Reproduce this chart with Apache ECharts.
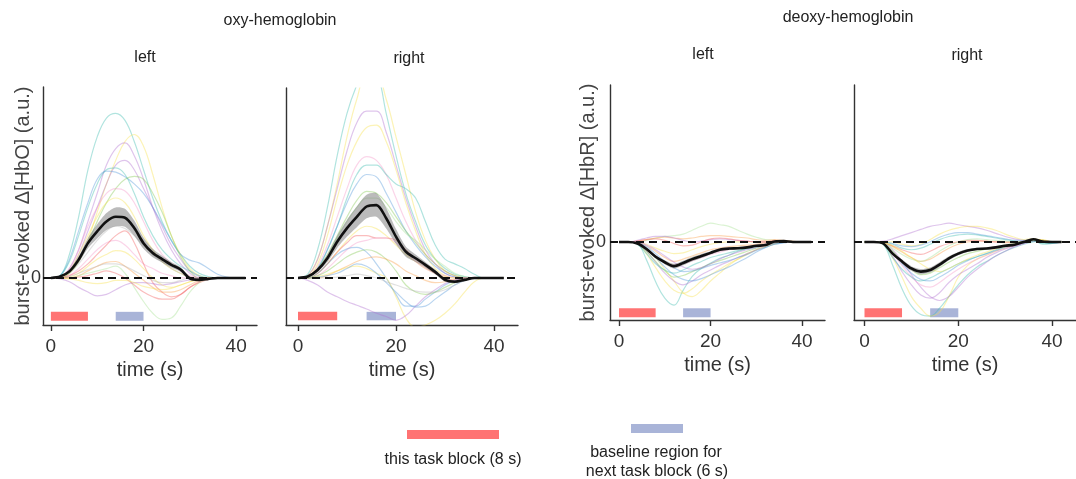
<!DOCTYPE html>
<html>
<head>
<meta charset="utf-8">
<script src="https://cdn.jsdelivr.net/npm/echarts@6/dist/echarts.min.js"></script>
<style>
  html, body { margin: 0; padding: 0; background: #fff; }
  #chart { width: 1076px; height: 479px; }
</style>
</head>
<body>
<div id="chart"></div>
<script>
// Time axis of the burst-evoked responses (s)
const timeS = [0, 2, 4, 6, 8, 10, 12, 14, 16, 18, 20, 22, 24, 26, 28, 30, 32, 34, 36, 38, 40, 42];

// Task block and following baseline window (s)
const taskBlock = [0, 8];
const baselineBlock = [14, 20];

// ---- oxy-hemoglobin, left hemisphere ----
const oxyLeftMean = [0, 0.03, 0.14, 0.39, 0.74, 0.99, 1.2, 1.3, 1.28, 1.06, 0.74, 0.53, 0.4, 0.28, 0.18, -0.01, -0.04, -0.02, 0, 0, 0, 0];
const oxyLeftSem = [0, 0.01, 0.03, 0.07, 0.11, 0.15, 0.18, 0.2, 0.19, 0.16, 0.12, 0.09, 0.07, 0.06, 0.05, 0.04, 0.03, 0.02, 0.01, 0.01, 0, 0];
const oxyLeftTraces = [
  [0, 0.05, 0.5, 1.3, 2.3, 3.0, 3.4, 3.5, 3.35, 2.9, 2.3, 1.7, 1.2, 0.8, 0.5, 0.25, 0.1, 0.03, 0, 0, 0, 0],
  [0, 0, 0.1, 0.35, 0.8, 1.4, 2.0, 2.5, 2.9, 3.05, 2.8, 2.2, 1.5, 0.9, 0.5, 0.2, 0.05, 0, 0, 0, 0, 0],
  [0, 0.02, 0.2, 0.6, 1.2, 1.8, 2.4, 2.75, 2.87, 2.6, 2.1, 1.5, 1.0, 0.6, 0.3, 0.1, 0, 0, 0, 0, 0, 0],
  [0, 0.02, 0.15, 0.5, 1.0, 1.5, 2.0, 2.4, 2.5, 2.3, 1.9, 1.5, 1.1, 0.7, 0.4, 0.15, 0.03, 0, 0, 0, 0, 0],
  [0, 0.05, 0.4, 1.0, 1.6, 2.1, 2.27, 2.25, 2.15, 2.0, 1.8, 1.5, 1.15, 0.8, 0.5, 0.38, 0.32, 0.2, 0.08, 0.02, 0, 0],
  [0, 0.05, 0.35, 0.9, 1.5, 2.0, 2.3, 2.34, 2.2, 1.8, 1.3, 0.9, 0.6, 0.4, 0.25, 0.15, 0.05, 0, 0, 0, 0, 0],
  [0, 0, 0.1, 0.35, 0.75, 1.2, 1.6, 1.9, 2.1, 2.16, 2.1, 1.8, 1.4, 0.9, 0.45, 0.15, 0, 0, 0, 0, 0, 0],
  [0, 0.02, 0.2, 0.6, 1.1, 1.5, 1.8, 1.9, 1.85, 1.6, 1.2, 0.8, 0.5, 0.3, 0.15, 0.05, 0, 0, 0, 0, 0, 0],
  [0, 0, 0.15, 0.5, 0.9, 1.3, 1.6, 1.7, 1.6, 1.3, 0.9, 0.6, 0.35, 0.2, 0.1, 0.02, 0, 0, 0, 0, 0, 0],
  [0, 0, 0.1, 0.3, 0.55, 0.8, 1.0, 1.1, 1.05, 0.9, 0.7, 0.5, 0.35, 0.2, 0.1, 0.02, 0, 0, 0, 0, 0, 0],
  [0, 0, 0.05, 0.2, 0.4, 0.6, 0.75, 0.8, 0.7, 0.5, 0.3, 0.2, 0.1, 0.05, 0, 0, 0, 0, 0, 0, 0, 0],
  [0, 0, 0.05, 0.15, 0.3, 0.5, 0.7, 0.9, 1.0, 0.75, 0.3, -0.1, -0.3, -0.4, -0.35, -0.2, -0.1, -0.03, 0, 0, 0, 0],
  [0, 0, 0.02, 0.1, 0.25, 0.4, 0.5, 0.58, 0.55, 0.4, 0.2, 0, -0.15, -0.2, -0.15, -0.08, -0.02, 0, 0, 0, 0, 0],
  [0, 0, 0, 0.05, 0.15, 0.25, 0.33, 0.35, 0.25, 0.1, -0.05, -0.2, -0.3, -0.3, -0.25, -0.15, -0.05, 0, 0, 0, 0, 0],
  [0, 0, 0, 0.05, 0.1, 0.15, 0.2, 0.25, 0.1, -0.2, -0.5, -0.75, -0.88, -0.85, -0.6, -0.3, -0.1, -0.02, 0, 0, 0, 0],
  [0, -0.02, -0.08, -0.2, -0.3, -0.38, -0.35, -0.25, -0.15, -0.1, -0.1, -0.12, -0.15, -0.12, -0.08, -0.04, 0, 0, 0, 0, 0, 0],
  [0, 0, 0, 0.02, 0.05, 0.1, 0.15, 0.1, 0, -0.15, -0.3, -0.4, -0.45, -0.45, -0.35, -0.2, -0.08, 0, 0, 0, 0, 0],
  [0, 0, -0.02, -0.05, -0.1, -0.12, -0.1, -0.05, -0.05, -0.1, -0.18, -0.22, -0.25, -0.22, -0.15, -0.08, -0.03, 0, 0, 0, 0, 0],
  [0, 0, 0.03, 0.1, 0.18, 0.25, 0.3, 0.3, 0.25, 0.15, 0.05, -0.05, -0.1, -0.1, -0.05, 0, 0, 0, 0, 0, 0, 0]
];
const oxyLeftHues = ['teal', 'yellow', 'purple', 'purple', 'blue', 'teal', 'green', 'pink', 'yellow', 'gray',
  'pink', 'red', 'yellow', 'orange', 'lightgreen', 'purple', 'red', 'yellow', 'gray'];

// ---- oxy-hemoglobin, right hemisphere ----
const oxyRightMean = [0, 0.03, 0.17, 0.42, 0.77, 1.06, 1.3, 1.52, 1.55, 1.27, 0.88, 0.56, 0.42, 0.28, 0.13, -0.04, -0.08, -0.04, 0, 0, 0, 0];
const oxyRightSem = [0, 0.01, 0.04, 0.08, 0.13, 0.18, 0.22, 0.25, 0.25, 0.22, 0.16, 0.11, 0.08, 0.06, 0.05, 0.04, 0.03, 0.02, 0.01, 0.01, 0, 0];
const oxyRightTraces = [
  [0, 0.08, 0.6, 1.5, 2.6, 3.5, 4.1, 4.5, 4.4, 3.5, 2.6, 1.8, 1.2, 0.7, 0.4, 0.2, 0.08, 0.03, 0, 0, 0, 0],
  [0, 0.05, 0.4, 1.1, 2.0, 3.0, 3.8, 4.3, 4.3, 3.8, 3.0, 2.2, 1.4, 0.8, 0.4, 0.15, 0.05, 0, 0, 0, 0, 0],
  [0, 0.05, 0.4, 1.1, 1.9, 2.7, 3.3, 3.55, 3.55, 3.1, 2.4, 1.7, 1.1, 0.6, 0.3, 0.1, 0.02, 0, 0, 0, 0, 0],
  [0, 0.03, 0.3, 0.9, 1.7, 2.4, 2.9, 3.2, 3.25, 2.9, 2.3, 1.6, 1.0, 0.5, 0.2, 0.05, 0, 0, 0, 0, 0, 0],
  [0, 0.03, 0.25, 0.7, 1.3, 1.9, 2.4, 2.58, 2.5, 2.2, 1.7, 1.2, 0.8, 0.5, 0.3, 0.15, 0.05, 0, 0, 0, 0, 0],
  [0, 0.03, 0.2, 0.6, 1.1, 1.7, 2.2, 2.4, 2.4, 2.2, 2.0, 1.9, 1.7, 1.2, 0.7, 0.4, 0.3, 0.2, 0.08, 0, 0, 0],
  [0, 0.02, 0.2, 0.6, 1.1, 1.6, 2.0, 2.2, 2.15, 1.8, 1.4, 1.0, 0.7, 0.45, 0.25, 0.1, 0.02, 0, 0, 0, 0, 0],
  [0, 0.02, 0.2, 0.5, 0.9, 1.3, 1.65, 1.84, 1.8, 1.6, 1.3, 1.0, 0.75, 0.5, 0.3, 0.15, 0.05, 0, 0, 0, 0, 0],
  [0, 0.02, 0.15, 0.45, 0.85, 1.2, 1.5, 1.7, 1.7, 1.5, 1.2, 0.95, 0.8, 0.6, 0.4, 0.25, 0.1, 0.03, 0, 0, 0, 0],
  [0, 0, 0.1, 0.3, 0.55, 0.8, 1.0, 1.1, 1.05, 0.9, 0.7, 0.5, 0.35, 0.2, 0.1, 0.03, 0, 0, 0, 0, 0, 0],
  [0, 0, 0.1, 0.3, 0.55, 0.75, 0.9, 0.9, 0.85, 0.85, 0.8, 0.6, 0.4, 0.25, 0.1, 0, -0.05, -0.02, 0, 0, 0, 0],
  [0, 0, 0.05, 0.2, 0.4, 0.6, 0.75, 0.8, 0.85, 0.85, 0.75, 0.55, 0.35, 0.2, 0.1, 0.05, 0, 0, 0, 0, 0, 0],
  [0, 0, 0.1, 0.3, 0.5, 0.62, 0.65, 0.55, 0.3, 0, -0.35, -0.6, -0.6, -0.45, -0.3, -0.15, -0.05, 0, 0, 0, 0, 0],
  [0, 0, 0.05, 0.15, 0.3, 0.45, 0.55, 0.6, 0.55, 0.4, 0.15, -0.15, -0.3, -0.35, -0.3, -0.2, -0.1, -0.03, 0, 0, 0, 0],
  [0, 0, 0, 0.05, 0.15, 0.25, 0.35, 0.42, 0.45, 0.4, 0.3, 0.15, 0.05, -0.05, -0.1, -0.08, -0.03, 0, 0, 0, 0, 0],
  [0, 0, 0.03, 0.08, 0.15, 0.22, 0.25, 0.2, 0.1, 0, -0.4, -0.85, -1.05, -1.0, -0.9, -0.75, -0.55, -0.3, -0.08, 0, 0, 0],
  [0, -0.05, -0.15, -0.3, -0.4, -0.5, -0.58, -0.66, -0.75, -0.82, -0.9, -0.8, -0.6, -0.4, -0.25, -0.12, -0.05, 0, 0, 0, 0, 0],
  [0, 0, 0.02, 0.05, 0.1, 0.2, 0.3, 0.25, 0.1, -0.1, -0.3, -0.5, -0.62, -0.6, -0.45, -0.3, -0.15, -0.05, 0, 0, 0, 0],
  [0, 0, 0, 0, 0.02, 0.05, 0.08, 0.05, 0, -0.08, -0.15, -0.22, -0.28, -0.3, -0.3, -0.25, -0.15, -0.05, 0, 0, 0, 0]
];
const oxyRightHues = ['teal', 'yellow', 'purple', 'yellow', 'pink', 'teal', 'blue', 'green', 'lightgreen', 'yellow',
  'red', 'pink', 'blue', 'green', 'orange', 'yellow', 'purple', 'blue', 'gray'];

// ---- deoxy-hemoglobin, left hemisphere ----
const deoxyLeftMean = [0, 0, -0.02, -0.09, -0.19, -0.26, -0.31, -0.27, -0.22, -0.18, -0.14, -0.1, -0.085, -0.08, -0.07, -0.05, -0.04, 0.005, 0.01, 0, 0, 0];
const deoxyLeftSem = [0, 0, 0.005, 0.015, 0.02, 0.025, 0.03, 0.03, 0.028, 0.025, 0.02, 0.018, 0.015, 0.013, 0.012, 0.01, 0.01, 0.008, 0.006, 0.005, 0.004, 0.003];
const deoxyLeftTraces = [
  [0, 0, -0.02, -0.23, -0.51, -0.72, -0.81, -0.62, -0.44, -0.34, -0.27, -0.21, -0.17, -0.12, -0.09, -0.07, -0.04, -0.02, 0, 0, 0, 0],
  [0, 0, -0.02, -0.15, -0.33, -0.5, -0.62, -0.66, -0.6, -0.5, -0.42, -0.35, -0.28, -0.22, -0.16, -0.1, -0.06, -0.03, 0, 0, 0, 0],
  [0, 0, -0.01, -0.08, -0.2, -0.35, -0.5, -0.65, -0.7, -0.62, -0.5, -0.4, -0.3, -0.22, -0.15, -0.1, -0.06, -0.02, 0, 0, 0, 0],
  [0, 0, -0.02, -0.12, -0.26, -0.4, -0.5, -0.55, -0.5, -0.42, -0.36, -0.3, -0.25, -0.2, -0.15, -0.1, -0.05, -0.02, 0, 0, 0, 0],
  [0, 0, -0.01, -0.08, -0.2, -0.32, -0.42, -0.48, -0.5, -0.47, -0.42, -0.37, -0.32, -0.26, -0.2, -0.13, -0.07, -0.03, -0.01, 0, 0, 0],
  [0, 0, -0.02, -0.12, -0.25, -0.37, -0.45, -0.43, -0.38, -0.33, -0.28, -0.24, -0.2, -0.16, -0.12, -0.08, -0.04, -0.01, 0, 0, 0, 0],
  [0, 0, -0.03, -0.15, -0.28, -0.36, -0.4, -0.36, -0.3, -0.25, -0.2, -0.17, -0.14, -0.11, -0.08, -0.05, -0.03, -0.01, 0, 0, 0, 0],
  [0, 0, -0.01, -0.08, -0.18, -0.25, -0.3, -0.28, -0.24, -0.2, -0.16, -0.13, -0.1, -0.08, -0.06, -0.04, -0.02, 0, 0, 0, 0, 0],
  [0, 0, 0, -0.05, -0.12, -0.2, -0.25, -0.22, -0.18, -0.14, -0.1, -0.08, -0.06, -0.05, -0.04, -0.03, -0.01, 0.01, 0.01, 0, 0, 0],
  [0, 0, 0, -0.03, -0.08, -0.12, -0.15, -0.14, -0.1, -0.06, -0.03, -0.01, 0, 0, 0, 0, 0, 0, 0, 0, 0, 0],
  [0, 0, 0, 0.02, 0.05, 0.07, 0.08, 0.1, 0.15, 0.2, 0.24, 0.22, 0.2, 0.15, 0.1, 0.06, 0.03, 0.02, 0.01, 0, 0, 0],
  [0, 0, 0.01, 0.03, 0.05, 0.06, 0.05, 0.04, 0.05, 0.07, 0.08, 0.08, 0.07, 0.06, 0.05, 0.03, 0.02, 0.03, 0.02, 0.01, 0, 0],
  [0, 0, 0.02, 0.05, 0.07, 0.07, 0.05, 0.02, 0, 0.01, 0.03, 0.04, 0.03, 0.02, 0.01, 0, 0, 0.01, 0, 0, 0, 0],
  [0, 0, 0.01, 0.03, 0.04, 0.02, -0.02, -0.05, -0.04, 0, 0.04, 0.05, 0.04, 0.02, 0.01, 0, 0, 0.02, 0.01, 0, 0, 0],
  [0, 0, -0.01, -0.06, -0.15, -0.25, -0.33, -0.38, -0.37, -0.34, -0.3, -0.27, -0.24, -0.2, -0.16, -0.11, -0.07, -0.03, -0.01, 0, 0, 0],
  [0, 0, 0, -0.04, -0.1, -0.18, -0.26, -0.32, -0.35, -0.33, -0.28, -0.22, -0.17, -0.13, -0.1, -0.07, -0.04, -0.01, 0.01, 0, 0, 0]
];
const deoxyLeftHues = ['teal', 'yellow', 'yellow', 'purple', 'blue', 'green', 'teal', 'pink', 'orange', 'yellow',
  'lightgreen', 'orange', 'purple', 'red', 'blue', 'purple'];

// ---- deoxy-hemoglobin, right hemisphere ----
const deoxyRightMean = [0, 0, -0.02, -0.15, -0.25, -0.34, -0.38, -0.36, -0.29, -0.21, -0.15, -0.11, -0.09, -0.085, -0.07, -0.05, -0.035, 0, 0.035, 0.005, 0, 0];
const deoxyRightSem = [0, 0, 0.005, 0.018, 0.025, 0.03, 0.033, 0.033, 0.03, 0.026, 0.022, 0.018, 0.015, 0.013, 0.012, 0.01, 0.01, 0.008, 0.008, 0.005, 0.004, 0.003];
const deoxyRightTraces = [
  [0, 0, -0.03, -0.3, -0.6, -0.82, -0.93, -0.95, -0.85, -0.7, -0.55, -0.42, -0.32, -0.25, -0.18, -0.12, -0.07, -0.03, 0, 0.02, 0, 0],
  [0, 0, -0.02, -0.2, -0.45, -0.7, -0.85, -0.95, -0.9, -0.7, -0.45, -0.3, -0.22, -0.17, -0.12, -0.08, -0.04, -0.01, 0.02, 0.03, 0, 0],
  [0, 0, -0.02, -0.18, -0.38, -0.55, -0.68, -0.72, -0.65, -0.52, -0.42, -0.35, -0.28, -0.2, -0.14, -0.09, -0.05, -0.02, 0.01, 0.02, 0, 0],
  [0, 0, -0.01, -0.1, -0.25, -0.42, -0.58, -0.7, -0.75, -0.7, -0.58, -0.45, -0.35, -0.26, -0.18, -0.12, -0.06, -0.02, 0.01, 0, 0, 0],
  [0, 0, -0.02, -0.15, -0.3, -0.45, -0.55, -0.58, -0.52, -0.43, -0.35, -0.28, -0.22, -0.17, -0.12, -0.08, -0.04, -0.01, 0.02, 0.01, 0, 0],
  [0, 0, -0.02, -0.14, -0.28, -0.4, -0.48, -0.5, -0.45, -0.38, -0.3, -0.24, -0.19, -0.15, -0.11, -0.07, -0.04, -0.01, 0.02, 0, -0.02, 0],
  [0, 0, -0.03, -0.2, -0.35, -0.45, -0.5, -0.46, -0.4, -0.34, -0.28, -0.23, -0.19, -0.15, -0.1, -0.06, -0.03, -0.01, 0.01, -0.02, -0.01, 0],
  [0, 0, -0.02, -0.12, -0.25, -0.35, -0.42, -0.4, -0.33, -0.26, -0.2, -0.15, -0.12, -0.09, -0.06, -0.04, -0.02, 0, 0.02, 0.01, 0, 0],
  [0, 0, -0.01, -0.06, -0.13, -0.2, -0.25, -0.22, -0.15, -0.08, -0.03, 0, 0.01, 0.01, 0, -0.01, -0.01, 0.01, 0.03, 0.02, 0, 0],
  [0, 0, -0.01, -0.05, -0.1, -0.14, -0.16, -0.12, -0.06, -0.02, 0, 0.02, 0.02, 0.01, 0, 0, 0, 0.01, 0.02, 0.01, 0, 0],
  [0, 0, 0.01, 0.04, 0.08, 0.12, 0.16, 0.2, 0.22, 0.24, 0.22, 0.2, 0.18, 0.15, 0.11, 0.07, 0.04, 0.02, 0.03, 0.01, 0, 0],
  [0, 0, 0, 0, -0.03, -0.05, -0.03, 0.03, 0.1, 0.15, 0.18, 0.2, 0.2, 0.18, 0.15, 0.1, 0.06, 0.03, 0.04, 0.02, 0, 0],
  [0, 0, 0, -0.02, -0.05, -0.06, -0.04, 0, 0.06, 0.1, 0.12, 0.12, 0.1, 0.08, 0.06, 0.04, 0.02, 0.02, 0.03, 0, 0, 0],
  [0, 0, 0, -0.03, -0.08, -0.1, -0.08, -0.03, 0.03, 0.07, 0.09, 0.1, 0.09, 0.07, 0.05, 0.03, 0.01, 0, 0.02, -0.03, -0.02, 0],
  [0, 0, -0.01, -0.05, -0.12, -0.2, -0.28, -0.35, -0.38, -0.34, -0.28, -0.22, -0.17, -0.13, -0.09, -0.06, -0.03, 0, 0.03, 0.02, 0, 0],
  [0, 0, -0.01, -0.08, -0.16, -0.22, -0.25, -0.2, -0.12, -0.05, 0, 0.03, 0.04, 0.03, 0.02, 0.01, 0, 0, 0.02, 0.01, 0, 0]
];
const deoxyRightHues = ['teal', 'yellow', 'purple', 'purple', 'pink', 'blue', 'teal', 'green', 'orange', 'red',
  'purple', 'yellow', 'blue', 'teal', 'yellow', 'lightgreen'];

// Line colours for the individual traces
const hueColors = {
  teal: '#3cbcae', yellow: '#f7e04a', purple: '#b06fd0', blue: '#4f95da', red: '#f25a5a',
  orange: '#fa9d45', green: '#82c850', lightgreen: '#a6e090', pink: '#f595c8', gray: '#b4b4b4'
};

const FONT = '"Liberation Sans", Arial, Helvetica, sans-serif';
const AXIS_COLOR = '#333';
const TASK_COLOR = '#ff7373';
const BASE_COLOR = '#a9b4d8';

const panels = [
  { mean: oxyLeftMean, sem: oxyLeftSem, traces: oxyLeftTraces, hues: oxyLeftHues,
    grid: { left: 43, top: 87, width: 214, height: 238 }, xr: [-1.7, 44.5], yr: [-1, 4.06],
    yName: 'burst-evoked Δ[HbO] (a.u.)', nameGap: 10, labelMargin: 2, barY: [-0.72, -0.91] },
  { mean: oxyRightMean, sem: oxyRightSem, traces: oxyRightTraces, hues: oxyRightHues,
    grid: { left: 286, top: 88, width: 232, height: 237 }, xr: [-2.45, 44.9], yr: [-1, 4.04],
    yName: null, barY: [-0.72, -0.9] },
  { mean: deoxyLeftMean, sem: deoxyLeftSem, traces: deoxyLeftTraces, hues: deoxyLeftHues,
    grid: { left: 610, top: 85, width: 215, height: 235 }, xr: [-1.97, 45.0], yr: [-1, 2.01],
    yName: 'burst-evoked Δ[HbR] (a.u.)', nameGap: 12, labelMargin: 4, barY: [-0.85, -0.965] },
  { mean: deoxyRightMean, sem: deoxyRightSem, traces: deoxyRightTraces, hues: deoxyRightHues,
    grid: { left: 854, top: 85, width: 232, height: 235 }, xr: [-2.24, 45.1], yr: [-1, 2.01],
    yName: null, barY: [-0.85, -0.965] }
];

const pairs = (vals) => timeS.map((t, k) => [t, vals[k]]);

const grids = [], xAxes = [], yAxes = [], series = [];

panels.forEach((p, i) => {
  grids.push(Object.assign({ containLabel: false }, p.grid));

  xAxes.push({
    gridIndex: i, type: 'value', min: p.xr[0], max: p.xr[1],
    name: 'time (s)', nameLocation: 'middle', nameGap: 35, nameMoveOverlap: false,
    nameTextStyle: { fontSize: 20, color: AXIS_COLOR, fontFamily: FONT },
    axisLine: { onZero: false, lineStyle: { color: AXIS_COLOR, width: 1.4 } },
    axisTick: { show: true, customValues: [0, 20, 40], length: 6, lineStyle: { color: AXIS_COLOR, width: 1.4 } },
    axisLabel: { customValues: [0, 20, 40], fontSize: 19, color: AXIS_COLOR, fontFamily: FONT, margin: 12 },
    splitLine: { show: false }
  });

  const yAxis = {
    gridIndex: i, type: 'value', min: p.yr[0], max: p.yr[1],
    axisLine: { show: true, onZero: false, lineStyle: { color: AXIS_COLOR, width: 1.4 } },
    axisTick: { show: false },
    splitLine: { show: false },
    axisLabel: { show: false }
  };
  if (p.yName) {
    yAxis.name = p.yName;
    yAxis.nameLocation = 'middle';
    yAxis.nameRotate = 90;
    yAxis.nameGap = p.nameGap;
    yAxis.nameMoveOverlap = false;
    yAxis.nameTextStyle = { fontSize: 20, color: '#444', fontFamily: FONT };
    yAxis.axisLabel = { show: true, customValues: [0], fontSize: 18, color: AXIS_COLOR, fontFamily: FONT, margin: p.labelMargin };
  }
  yAxes.push(yAxis);

  // individual traces
  p.traces.forEach((vals, k) => {
    series.push({
      type: 'line', xAxisIndex: i, yAxisIndex: i, data: pairs(vals),
      showSymbol: false, smooth: 0.4, silent: true, z: 2,
      lineStyle: { width: 1.2, color: hueColors[p.hues[k]], opacity: 0.4 }
    });
  });

  // shaded error band around the group mean, plus zero line and block markers
  const bandRows = timeS.map((t, k) => [t, p.mean[k] - p.sem[k], p.mean[k] + p.sem[k]]);
  series.push({
    type: 'custom', xAxisIndex: i, yAxisIndex: i, silent: true, z: 3,
    data: bandRows,
    encode: { x: 0, y: [1, 2] },
    renderItem: (params, api) => {
      if (params.dataIndex !== 0) return null;
      const upper = bandRows.map(r => api.coord([r[0], r[2]]));
      const lower = bandRows.map(r => api.coord([r[0], r[1]])).reverse();
      return {
        type: 'polygon',
        shape: { points: upper.concat(lower), smooth: 0.25 },
        style: { fill: 'rgba(120,120,120,0.5)' }
      };
    },
    markLine: {
      silent: true, symbol: 'none', label: { show: false },
      lineStyle: { color: '#111', width: 2.2, type: [8, 5] },
      data: [{ yAxis: 0 }]
    },
    markArea: {
      silent: true,
      data: [
        [{ coord: [taskBlock[0], p.barY[0]], itemStyle: { color: TASK_COLOR, opacity: 1 } },
         { coord: [taskBlock[1], p.barY[1]] }],
        [{ coord: [baselineBlock[0], p.barY[0]], itemStyle: { color: BASE_COLOR, opacity: 1 } },
         { coord: [baselineBlock[1], p.barY[1]] }]
      ]
    }
  });

  // group mean
  series.push({
    type: 'line', xAxisIndex: i, yAxisIndex: i, data: pairs(p.mean),
    showSymbol: false, smooth: 0.3, silent: true, z: 5,
    lineStyle: { width: 2.6, color: '#111' }
  });
});

const txt = (x, y, text, size, color) => ({
  type: 'text', x: x, y: y, silent: true,
  style: { text: text, fontSize: size, fontFamily: FONT, fill: color || '#222', align: 'center', verticalAlign: 'middle' }
});

const graphic = [
  txt(280, 21, 'oxy-hemoglobin', 16),
  txt(848, 18, 'deoxy-hemoglobin', 16),
  txt(145, 58, 'left', 16),
  txt(409, 59, 'right', 16),
  txt(703, 55, 'left', 16),
  txt(967, 56, 'right', 16),
  { type: 'rect', silent: true, shape: { x: 407, y: 430, width: 92, height: 9 }, style: { fill: TASK_COLOR } },
  { type: 'rect', silent: true, shape: { x: 631, y: 424, width: 52, height: 9 }, style: { fill: BASE_COLOR } },
  txt(453, 460, 'this task block (8 s)', 16),
  txt(656, 453, 'baseline region for', 16),
  txt(657, 472, 'next task block (6 s)', 16)
];

const chart = echarts.init(document.getElementById('chart'), null, { renderer: 'canvas' });
chart.setOption({
  animation: false,
  backgroundColor: '#ffffff',
  grid: grids,
  xAxis: xAxes,
  yAxis: yAxes,
  series: series,
  graphic: graphic
});
</script>
</body>
</html>
